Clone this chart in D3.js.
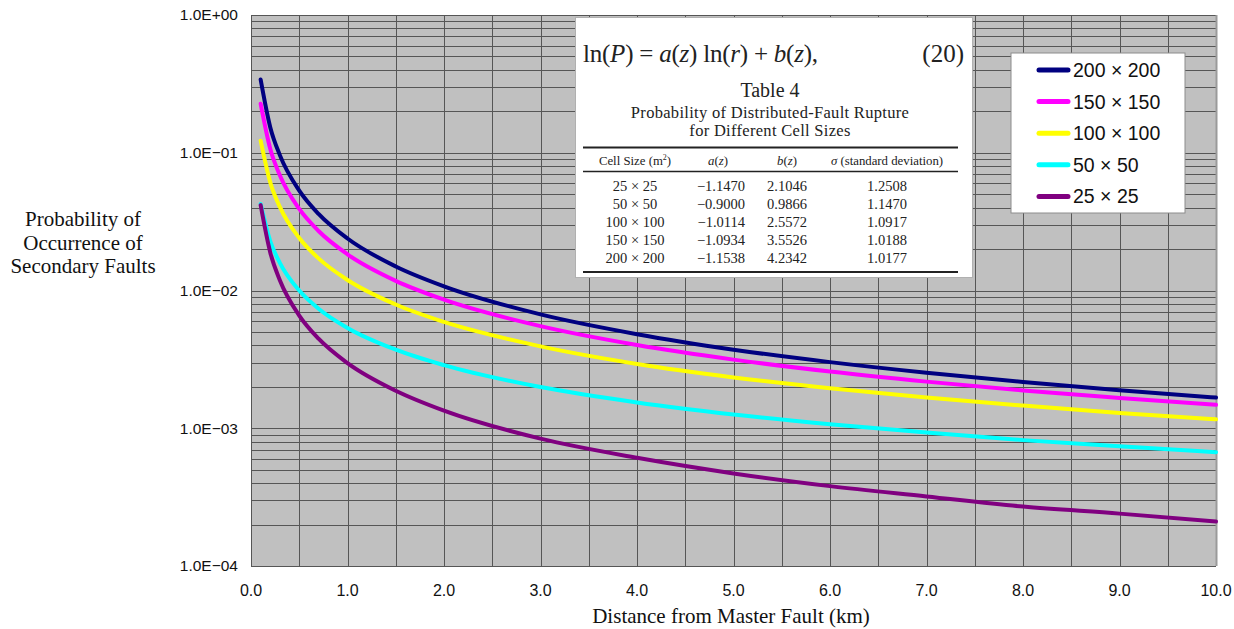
<!DOCTYPE html>
<html>
<head>
<meta charset="utf-8">
<script src="https://cdn.jsdelivr.net/npm/d3@7"></script>
<style>
  body { margin: 0; background: #fff; }
  svg { display: block; }
</style>
</head>
<body>
<div id="chart"></div>
<script>
var distances = [0.1, 0.2, 0.3, 0.5, 0.7, 1.0, 1.5, 2.0, 3.0, 4.0, 5.0, 6.0, 7.0, 8.0, 9.0, 10.0];

var p200 = [0.3398, 0.1527, 0.0957, 0.0531, 0.0360, 0.02385, 0.01494, 0.01072, 0.00671, 0.00482, 0.00372, 0.00302, 0.00253, 0.00217, 0.00189, 0.00167];
var p150 = [0.2270, 0.1064, 0.0683, 0.03907, 0.02704, 0.01831, 0.01175, 0.00858, 0.00551, 0.00402, 0.00315, 0.00258, 0.00218, 0.00188, 0.00166, 0.00148];
var p100 = [0.1224, 0.0607, 0.04029, 0.02403, 0.01710, 0.01192, 0.00791, 0.00591, 0.00393, 0.00293, 0.00234, 0.00195, 0.00167, 0.00146, 0.00129, 0.00116];
var p50  = [0.0425, 0.02278, 0.01581, 0.00999, 0.00738, 0.00535, 0.00372, 0.00287, 0.00199, 0.00154, 0.00126, 0.00107, 0.00093, 0.00082, 0.00074, 0.00067];
var p25  = [0.04168, 0.01883, 0.01183, 0.00658, 0.00447, 0.00297, 0.00187, 0.00134, 0.00084, 0.00061, 0.00047, 0.00038, 0.00032, 0.00027, 0.00024, 0.00021];

var legendLabels = ["200 \u00d7 200", "150 \u00d7 150", "100 \u00d7 100", "50 \u00d7 50", "25 \u00d7 25"];
var seriesValues = [p200, p150, p100, p50, p25];
var seriesColors = ["#000080", "#ff00ff", "#ffff00", "#00ffff", "#800080"];

var xTicks = [0, 1, 2, 3, 4, 5, 6, 7, 8, 9, 10];
var yTicks = [1, 0.1, 0.01, 0.001, 0.0001];
var yTickLabels = ["1.0E+00", "1.0E\u221201", "1.0E\u221202", "1.0E\u221203", "1.0E\u221204"];

// inset table (image of Table 4)
var tableCells = ["25 \u00d7 25", "50 \u00d7 50", "100 \u00d7 100", "150 \u00d7 150", "200 \u00d7 200"];
var tableA = ["\u22121.1470", "\u22120.9000", "\u22121.0114", "\u22121.0934", "\u22121.1538"];
var tableB = ["2.1046", "0.9866", "2.5572", "3.5526", "4.2342"];
var tableSigma = ["1.2508", "1.1470", "1.0917", "1.0188", "1.0177"];

var W = 1234, H = 629;
var margin = { top: 15, right: 18, bottom: 63, left: 251 };
var width = W - margin.left - margin.right,
    height = H - margin.top - margin.bottom;

var svg = d3.select("#chart").append("svg")
    .attr("width", W)
    .attr("height", H);

var g = svg.append("g")
    .attr("transform", "translate(" + margin.left + "," + margin.top + ")");

var x = d3.scaleLinear().domain([0, 10]).range([0, width]);
var y = d3.scaleLog().domain([1e-4, 1]).range([height, 0]);

// plot background
g.append("rect")
    .attr("width", width)
    .attr("height", height)
    .attr("fill", "#c0c0c0");

// horizontal grid (major + minor log lines)
var hLines = [];
for (var e = -4; e < 0; e++) {
    for (var m = 1; m < 10; m++) hLines.push(m * Math.pow(10, e));
}
hLines.push(1);
g.append("g").selectAll("line")
    .data(hLines)
    .enter().append("line")
    .attr("x1", 0).attr("x2", width)
    .attr("y1", function (d) { return Math.round(y(d)) + 0.5; })
    .attr("y2", function (d) { return Math.round(y(d)) + 0.5; })
    .attr("stroke", "#565656")
    .attr("stroke-width", 1);

// vertical grid every 0.5 km
g.append("g").selectAll("line")
    .data(d3.range(0, 10.01, 0.5))
    .enter().append("line")
    .attr("y1", 0).attr("y2", height)
    .attr("x1", function (d) { return Math.round(x(d)) + 0.5; })
    .attr("x2", function (d) { return Math.round(x(d)) + 0.5; })
    .attr("stroke", function (d) { return d === 10 ? "#9a9a9a" : "#565656"; })
    .attr("stroke-width", function (d) { return d === 10 ? 2 : 1; });

// curves
var line = d3.line()
    .x(function (d) { return x(d[0]); })
    .y(function (d) { return y(d[1]); })
    .curve(d3.curveMonotoneX);

g.append("g").selectAll("path")
    .data(seriesValues)
    .enter().append("path")
    .attr("d", function (vals) {
        return line(distances.map(function (dd, i) { return [dd, vals[i]]; }));
    })
    .attr("fill", "none")
    .attr("stroke", function (d, i) { return seriesColors[i]; })
    .attr("stroke-width", 4)
    .attr("stroke-linecap", "round");

// y tick labels
g.append("g").selectAll("text")
    .data(yTicks)
    .enter().append("text")
    .attr("x", -13)
    .attr("y", function (d) { return y(d); })
    .attr("dy", "0.35em")
    .attr("text-anchor", "end")
    .attr("font-family", "Liberation Sans, Arial, sans-serif")
    .attr("font-size", 15.5)
    .attr("fill", "#111")
    .text(function (d, i) { return yTickLabels[i]; });

// x tick labels
g.append("g").selectAll("text")
    .data(xTicks)
    .enter().append("text")
    .attr("x", function (d) { return x(d); })
    .attr("y", height + 30)
    .attr("text-anchor", "middle")
    .attr("font-family", "Liberation Sans, Arial, sans-serif")
    .attr("font-size", 16)
    .attr("fill", "#111")
    .text(function (d) { return d3.format(".1f")(d); });

// axis titles
svg.append("text")
    .attr("x", 731)
    .attr("y", 623)
    .attr("text-anchor", "middle")
    .attr("font-family", "Liberation Serif, Times New Roman, serif")
    .attr("font-size", 21)
    .attr("fill", "#111")
    .text("Distance from Master Fault (km)");

var yTitle = svg.append("text")
    .attr("text-anchor", "middle")
    .attr("font-family", "Liberation Serif, Times New Roman, serif")
    .attr("font-size", 21)
    .attr("fill", "#111");
["Probability of", "Occurrence of", "Secondary Faults"].forEach(function (t, i) {
    yTitle.append("tspan").attr("x", 83).attr("y", 226 + i * 23.5).text(t);
});

// legend
var legend = svg.append("g").attr("transform", "translate(1011,53)");
legend.append("rect")
    .attr("width", 174).attr("height", 160)
    .attr("fill", "#fff")
    .attr("stroke", "#8c8c8c");
var items = legend.selectAll("g.item")
    .data(legendLabels)
    .enter().append("g")
    .attr("transform", function (d, i) { return "translate(0," + (17 + i * 31.6) + ")"; });
items.append("line")
    .attr("x1", 28).attr("x2", 57)
    .attr("stroke", function (d, i) { return seriesColors[i]; })
    .attr("stroke-width", 5)
    .attr("stroke-linecap", "round");
items.append("text")
    .attr("x", 62)
    .attr("dy", "0.36em")
    .attr("font-family", "Liberation Sans, Arial, sans-serif")
    .attr("font-size", 19.5)
    .attr("fill", "#111")
    .text(function (d) { return d; });

// inset: equation and table
var inset = svg.append("g");
var serif = "Liberation Serif, Times New Roman, serif";
inset.append("rect")
    .attr("x", 575.5).attr("y", 17.5)
    .attr("width", 397).attr("height", 260)
    .attr("fill", "#fff")
    .attr("stroke", "#b0b0b0");

var eq = inset.append("text")
    .attr("x", 583).attr("y", 62)
    .attr("font-family", serif)
    .attr("font-size", 25)
    .attr("fill", "#222")
    .attr("textLength", 235)
    .attr("lengthAdjust", "spacing");
[["ln(", false], ["P", true], [") = ", false], ["a", true], ["(", false], ["z", true], [") ln(", false],
 ["r", true], [") + ", false], ["b", true], ["(", false], ["z", true], ["),", false]].forEach(function (p) {
    eq.append("tspan").attr("font-style", p[1] ? "italic" : "normal").text(p[0]);
});
inset.append("text")
    .attr("x", 964).attr("y", 62)
    .attr("text-anchor", "end")
    .attr("font-family", serif)
    .attr("font-size", 25)
    .attr("fill", "#222")
    .text("(20)");

inset.append("text")
    .attr("x", 770).attr("y", 97)
    .attr("text-anchor", "middle")
    .attr("font-family", serif).attr("font-size", 20).attr("fill", "#222")
    .text("Table 4");
inset.append("text")
    .attr("x", 770).attr("y", 118)
    .attr("text-anchor", "middle")
    .attr("font-family", serif).attr("font-size", 16.5).attr("fill", "#222")
    .attr("letter-spacing", 0.3)
    .text("Probability of Distributed-Fault Rupture");
inset.append("text")
    .attr("x", 770).attr("y", 136)
    .attr("text-anchor", "middle")
    .attr("font-family", serif).attr("font-size", 16.5).attr("fill", "#222")
    .attr("letter-spacing", 0.3)
    .text("for Different Cell Sizes");

[[147.5, 2], [171.5, 1.5], [272, 2]].forEach(function (r) {
    inset.append("line")
        .attr("x1", 583).attr("x2", 958)
        .attr("y1", r[0]).attr("y2", r[0])
        .attr("stroke", "#222").attr("stroke-width", r[1]);
});

var colX = [635, 718, 787, 887];
var head = inset.append("g")
    .attr("font-family", serif).attr("font-size", 12.8).attr("fill", "#222");
head.append("text").attr("x", colX[0]).attr("y", 165).attr("text-anchor", "middle")
    .html("Cell Size (m<tspan font-size='8' dy='-5'>2</tspan><tspan dy='5'>)</tspan>");
head.append("text").attr("x", colX[1]).attr("y", 165).attr("text-anchor", "middle")
    .html("<tspan font-style='italic'>a</tspan>(<tspan font-style='italic'>z</tspan>)");
head.append("text").attr("x", colX[2]).attr("y", 165).attr("text-anchor", "middle")
    .html("<tspan font-style='italic'>b</tspan>(<tspan font-style='italic'>z</tspan>)");
head.append("text").attr("x", colX[3]).attr("y", 165).attr("text-anchor", "middle")
    .html("<tspan font-style='italic'>\u03c3</tspan> (standard deviation)");

var rows = inset.append("g")
    .attr("font-family", serif).attr("font-size", 14.5).attr("fill", "#222");
tableCells.forEach(function (c, i) {
    var yy = 191 + i * 18;
    rows.append("text").attr("x", colX[0]).attr("y", yy).attr("text-anchor", "middle").text(c);
    rows.append("text").attr("x", 745).attr("y", yy).attr("text-anchor", "end").text(tableA[i]);
    rows.append("text").attr("x", colX[2]).attr("y", yy).attr("text-anchor", "middle").text(tableB[i]);
    rows.append("text").attr("x", colX[3]).attr("y", yy).attr("text-anchor", "middle").text(tableSigma[i]);
});
</script>
</body>
</html>
